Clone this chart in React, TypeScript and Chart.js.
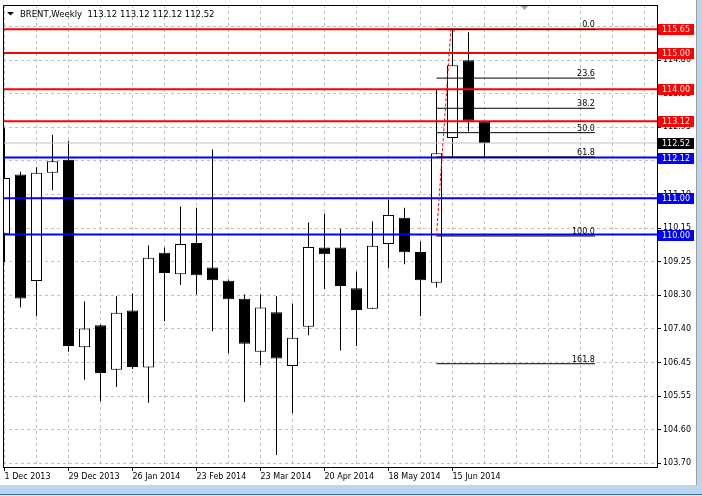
import React, { useEffect, useRef } from 'react';
import { Chart, registerables } from 'chart.js';

Chart.register(...registerables);

// ---- data ----
const weeks = [
  '2013-12-01', '2013-12-08', '2013-12-15', '2013-12-22', '2013-12-29',
  '2014-01-05', '2014-01-12', '2014-01-19', '2014-01-26',
  '2014-02-02', '2014-02-09', '2014-02-16', '2014-02-23',
  '2014-03-02', '2014-03-09', '2014-03-16', '2014-03-23', '2014-03-30',
  '2014-04-06', '2014-04-13', '2014-04-20', '2014-04-27',
  '2014-05-04', '2014-05-11', '2014-05-18', '2014-05-25',
  '2014-06-01', '2014-06-08', '2014-06-15', '2014-06-22', '2014-06-29',
];
const opens = [
  110.02, 111.65, 108.72, 111.70, 112.06, 106.90, 107.50, 106.28, 107.91, 106.34,
  109.50, 108.91, 109.77, 109.09, 108.73, 108.23, 106.77, 107.86, 106.38, 107.46,
  109.64, 109.64, 108.52, 107.96, 109.74, 110.46, 109.52, 108.67, 112.66, 114.80, 113.12,
];
const highs = [
  112.93, 111.73, 111.85, 112.75, 112.58, 108.16, 107.52, 108.30, 108.38, 109.70,
  109.64, 110.77, 110.74, 112.34, 108.76, 108.35, 108.35, 108.30, 108.10, 110.33,
  110.58, 110.16, 108.98, 110.36, 110.96, 110.74, 109.81, 113.98, 115.65, 115.57, 113.12,
];
const lows = [
  109.24, 108.00, 107.75, 111.22, 106.77, 106.00, 105.41, 105.80, 106.30, 105.37,
  107.61, 108.61, 108.35, 107.34, 106.73, 105.39, 106.41, 103.93, 105.08, 107.23,
  108.50, 106.81, 106.93, 107.95, 109.07, 109.18, 107.76, 108.54, 112.15, 112.84, 112.12,
];
const closes = [
  111.56, 108.24, 111.70, 112.02, 106.93, 107.41, 106.19, 107.85, 106.35, 109.36,
  108.94, 109.74, 108.88, 108.74, 108.22, 106.99, 107.99, 106.59, 107.16, 109.66,
  109.46, 108.58, 107.92, 109.69, 110.54, 109.51, 108.74, 112.24, 114.66, 113.13, 112.52,
];

const redLevels = [115.65, 115.0, 114.0, 113.12];
const blueLevels = [112.12, 111.0, 110.0];
const bidPrice = 112.52;

const fibHigh = 115.65;
const fibLow = 109.96;
const fibLevels = [0, 23.6, 38.2, 50, 61.8, 100, 161.8];
const fibStartWeek = 27;
const fibEndWeek = 36.9;
const fibAnchorTopWeek = 27.9;

const yTickValues = [
  103.7, 104.625, 105.55, 106.475, 107.4, 108.325, 109.25,
  110.175, 111.1, 112.025, 112.95, 113.875, 114.8, 115.725,
];
const yTickLabels = [
  '103.70', '104.60', '105.55', '106.45', '107.40', '108.30', '109.25',
  '110.15', '111.10', '112.00', '112.95', '113.85', '114.80', '',
];
const xTickWeeks = [0, 4, 8, 12, 16, 20, 24, 28];
const xTickLabels = [
  '1 Dec 2013', '29 Dec 2013', '26 Jan 2014', '23 Feb 2014',
  '23 Mar 2014', '20 Apr 2014', '18 May 2014', '15 Jun 2014',
];
const titleText = 'BRENT,Weekly  113.12 113.12 112.12 112.52';

// ---- scale ranges ----
const X_MIN = -0.09375;
const X_MAX = 40.78125;
const Y_MIN = 103.6;
const Y_MAX = 116.32;

const FONT = '"DejaVu Sans", Verdana, sans-serif';

const hLine = (v: number, color: string, width: number, order: number) => ({
  type: 'line' as const,
  data: [{ x: X_MIN, y: v }, { x: X_MAX, y: v }],
  borderColor: color,
  borderWidth: width,
  pointRadius: 0,
  tension: 0,
  order,
});

const overlayPlugin = {
  id: 'mtOverlay',
  afterDraw(chart: any) {
    const { ctx, chartArea: a, scales } = chart;
    const x = scales.x;
    const y = scales.y;
    ctx.save();

    // frame (left & top)
    ctx.strokeStyle = '#000';
    ctx.lineWidth = 1;
    ctx.setLineDash([]);
    ctx.beginPath();
    ctx.moveTo(a.left + 0.5, a.bottom);
    ctx.lineTo(a.left + 0.5, a.top + 0.5);
    ctx.lineTo(a.right, a.top + 0.5);
    ctx.stroke();

    // title
    ctx.fillStyle = '#000';
    ctx.beginPath();
    ctx.moveTo(7, 12);
    ctx.lineTo(14, 12);
    ctx.lineTo(10.5, 15.5);
    ctx.closePath();
    ctx.fill();
    ctx.font = `8.5px ${FONT}`;
    ctx.textAlign = 'left';
    ctx.textBaseline = 'alphabetic';
    ctx.fillText(titleText, 20, 17);

    // chart-shift marker
    ctx.fillStyle = '#a0a0a0';
    ctx.beginPath();
    ctx.moveTo(521, 6);
    ctx.lineTo(528, 6);
    ctx.lineTo(524.5, 10);
    ctx.closePath();
    ctx.fill();

    // fib labels
    ctx.font = `8px ${FONT}`;
    ctx.fillStyle = '#000';
    ctx.textAlign = 'right';
    ctx.textBaseline = 'alphabetic';
    const fx = x.getPixelForValue(fibEndWeek);
    fibLevels.forEach((l) => {
      const p = fibHigh - (l / 100) * (fibHigh - fibLow);
      ctx.fillText(l.toFixed(1), fx, y.getPixelForValue(p) - 2);
    });

    // price boxes on the axis
    const box = (v: number, bg: string) => {
      const py = y.getPixelForValue(v);
      const top = Math.round(py - 5);
      ctx.fillStyle = bg;
      ctx.fillRect(a.right + 1, top, 36, 11);
      ctx.fillStyle = '#fff';
      ctx.textAlign = 'left';
      ctx.textBaseline = 'middle';
      ctx.fillText(v.toFixed(2), a.right + 5, top + 5.5);
    };
    redLevels.forEach((v) => box(v, '#ff0000'));
    blueLevels.forEach((v) => box(v, '#0000ff'));
    box(bidPrice, '#000000');

    // window frame strips
    ctx.fillStyle = '#a0a0a0';
    ctx.fillRect(696, 0, 1, 486);
    ctx.fillStyle = '#bcd4ec';
    ctx.fillRect(697, 0, 5, 496);
    ctx.fillRect(0, 485, 702, 9);
    ctx.fillStyle = '#3d6fa6';
    ctx.fillRect(0, 494, 702, 1);
    ctx.fillStyle = '#dde9f6';
    ctx.fillRect(0, 495, 702, 1);

    ctx.restore();
  },
};

export default function App() {
  const ref = useRef<HTMLCanvasElement>(null);

  useEffect(() => {
    document.body.style.margin = '0';
    const canvas = ref.current;
    if (!canvas) return;

    const bodies = weeks.map((_, i) => ({ x: i, y: [opens[i], closes[i]] }));
    const wicks = weeks.map((_, i) => ({ x: i, y: [lows[i], highs[i]] }));
    const bodyColors = weeks.map((_, i) => (closes[i] >= opens[i] ? '#ffffff' : '#000000'));

    const fibDatasets = fibLevels.map((l) => {
      const p = fibHigh - (l / 100) * (fibHigh - fibLow);
      return {
        type: 'line' as const,
        data: [{ x: fibStartWeek, y: p }, { x: fibEndWeek, y: p }],
        borderColor: '#000',
        borderWidth: 1,
        pointRadius: 0,
        order: 0,
      };
    });

    const chart = new Chart(canvas, {
      type: 'bar',
      data: {
        datasets: [
          ...fibDatasets,
          {
            type: 'line',
            data: [
              { x: fibStartWeek, y: fibLow },
              { x: fibAnchorTopWeek, y: fibHigh },
              { x: fibAnchorTopWeek + 0.2, y: fibHigh },
              { x: fibAnchorTopWeek + 0.2, y: fibHigh - 0.12 },
            ],
            borderColor: '#ff0000',
            borderWidth: 1,
            borderDash: [3, 2],
            pointRadius: 0,
            order: 0,
          },
          ...redLevels.map((v) => hLine(v, '#ff0000', 2, 1)),
          ...blueLevels.map((v) => hLine(v, '#0000ff', 2, 1)),
          hLine(bidPrice, '#c0c0c0', 1, 2),
          {
            type: 'bar',
            data: bodies as any,
            backgroundColor: bodyColors,
            borderColor: '#000',
            borderWidth: 1,
            borderSkipped: false,
            barThickness: 11,
            grouped: false,
            inflateAmount: 0,
            clip: 0,
            order: 3,
          } as any,
          {
            type: 'bar',
            data: wicks as any,
            backgroundColor: '#000',
            borderWidth: 0,
            barThickness: 1,
            grouped: false,
            inflateAmount: 0,
            clip: 0,
            order: 4,
          } as any,
        ],
      },
      options: {
        animation: false,
        responsive: false,
        maintainAspectRatio: false,
        events: [],
        layout: { padding: { left: 3, top: 5, right: 0, bottom: 0 } },
        plugins: { legend: { display: false }, tooltip: { enabled: false }, title: { display: false } },
        scales: {
          x: {
            type: 'linear',
            min: X_MIN,
            max: X_MAX,
            bounds: 'data',
            offset: false,
            afterFit: (s: any) => {
              s.height = 29;
              s.paddingLeft = 0;
              s.paddingRight = 0;
            },
            afterBuildTicks: (s: any) => {
              const t = [];
              for (let v = 0; v <= 40; v += 2) t.push({ value: v });
              s.ticks = t;
            },
            grid: {
              color: '#c0c0c0',
              lineWidth: 1,
              offset: false,
              drawTicks: true,
              tickLength: 4,
              tickWidth: 1,
              tickBorderDash: [],
              tickColor: (c: any) =>
                c.tick && xTickWeeks.includes(c.tick.value) ? '#000' : 'rgba(0,0,0,0)',
            },
            border: { display: true, color: '#000', width: 1, dash: [3, 3] },
            ticks: {
              autoSkip: false,
              maxRotation: 0,
              minRotation: 0,
              align: 'start',
              padding: 1,
              color: '#000',
              font: { family: FONT, size: 8 },
              callback: (v: any) => {
                const i = xTickWeeks.indexOf(Number(v));
                return i >= 0 ? xTickLabels[i] : '';
              },
            },
          } as any,
          y: {
            type: 'linear',
            position: 'right',
            min: Y_MIN,
            max: Y_MAX,
            bounds: 'data',
            afterFit: (s: any) => {
              s.width = 45;
              s.paddingTop = 0;
              s.paddingBottom = 0;
            },
            afterBuildTicks: (s: any) => {
              s.ticks = yTickValues.map((v) => ({ value: v }));
            },
            grid: {
              color: '#c0c0c0',
              lineWidth: 1,
              drawTicks: true,
              tickLength: 4,
              tickWidth: 1,
              tickColor: '#000',
              tickBorderDash: [],
            },
            border: { display: true, color: '#000', width: 1, dash: [3, 3] },
            ticks: {
              padding: 2,
              color: '#000',
              font: { family: FONT, size: 8 },
              callback: (_v: any, i: number) => yTickLabels[i],
            },
          } as any,
        },
      },
      plugins: [overlayPlugin],
    });

    return () => chart.destroy();
  }, []);

  return (
    <canvas
      ref={ref}
      width={702}
      height={496}
      style={{ display: 'block', width: '702px', height: '496px' }}
    />
  );
}
